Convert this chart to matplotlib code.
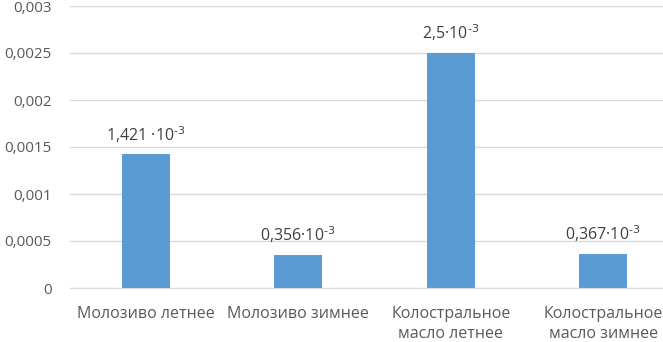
import matplotlib
matplotlib.use("Agg")
import matplotlib.pyplot as plt

categories = ["Молозиво летнее", "Молозиво зимнее", "Колостральное\nмасло летнее", "Колостральное\nмасло зимнее"]
values = [0.001421, 0.000356, 0.0025, 0.000367]
value_labels = ["1,421 ·10$^{\\text{-3}}$", "0,356·10$^{\\text{-3}}$",
                "2,5·10$^{\\text{-3}}$", "0,367·10$^{\\text{-3}}$"]
yticks = [0, 0.0005, 0.001, 0.0015, 0.002, 0.0025, 0.003]
ytick_labels = ["0", "0,0005", "0,001", "0,0015", "0,002", "0,0025", "0,003"]

plt.rcParams['font.family'] = ['Open Sans', 'DejaVu Sans']
W, H = 663, 342
fig = plt.figure(figsize=(W/100, H/100), dpi=100)
left, right = 69.5, 679.5
bottom, top = 288, 6
ax = fig.add_axes([left/W, 1 - bottom/H, (right-left)/W, (bottom-top)/H])

x = list(range(len(categories)))
ax.bar(x, values, width=0.315, color="#5B9BD5", zorder=3)
ax.set_xlim(-0.5, 3.5)
ax.set_ylim(0, 0.003)
ax.set_yticks(yticks)
ax.set_yticklabels(ytick_labels)
ax.set_xticks(x)
ax.set_xticklabels(categories, linespacing=1.3)
ax.grid(axis='y', color="#D9D9D9", linewidth=1, zorder=0)
for s in ['top', 'right', 'left']:
    ax.spines[s].set_visible(False)
ax.spines['bottom'].set_color("#D9D9D9")
ax.tick_params(axis='both', length=0, colors="#595959", labelsize=11.5)
ax.tick_params(axis='y', pad=13, labelsize=11)
ax.tick_params(axis='x', pad=13)
for xi, v, lab in zip(x, values, value_labels):
    ax.annotate(lab, (xi, v), xytext=(0, 7), textcoords='offset points',
                ha='center', va='bottom', fontsize=11.5, color="#404040")

fig.savefig("out.png", dpi=100)
